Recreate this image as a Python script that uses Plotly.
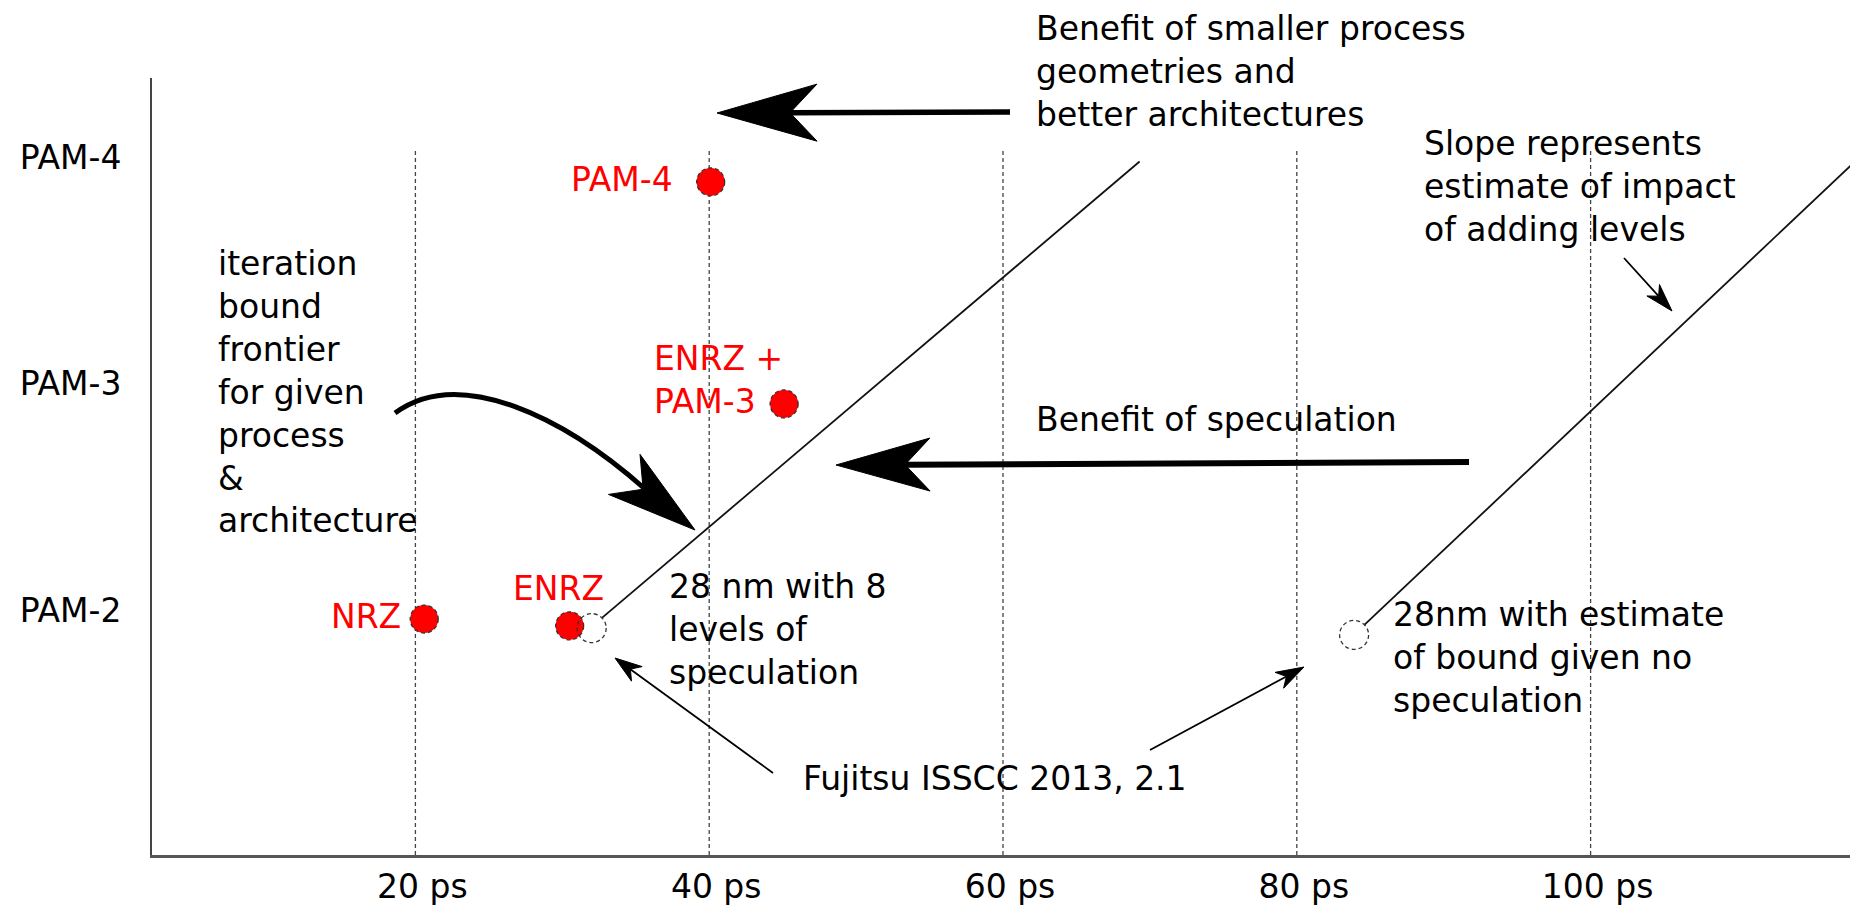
import math
import plotly.graph_objects as go

# ---------------- data ----------------
LEVEL_TICKS = [2, 3, 4]
LEVEL_LABELS = ["PAM-2", "PAM-3", "PAM-4"]
PS_TICKS = [20, 40, 60, 80, 100]
PS_LABELS = ["20 ps", "40 ps", "60 ps", "80 ps", "100 ps"]

SCHEMES = ["NRZ", "ENRZ", "PAM-4", "ENRZ + PAM-3"]
SCHEME_PS = [20.6, 30.5, 40.1, 45.1]
SCHEME_LEVEL = [1.96, 1.93, 3.89, 2.91]

BOUND_NAMES = ["28 nm with 8 levels of speculation", "28 nm, no speculation"]
BOUND_PS = [32.0, 83.9]
BOUND_LEVEL = [1.92, 1.89]

FRONTIER1_PS = [32.7, 69.3]
FRONTIER1_LEVEL = [1.965, 3.98]
FRONTIER2_PS = [84.6, 118.0]
FRONTIER2_LEVEL = [1.934, 3.98]

GRID_TOP_LEVEL = 4.04

# ---------------- geometry ----------------
# The page body has an 8px margin, so the figure is drawn 8px right/down
# of the screen origin; all screen positions below are converted.
BODY = 8
W, H = 1850, 899
PLOT_L, PLOT_R, PLOT_T, PLOT_B = 152, 1855, 78, 855          # screen px
L_M = PLOT_L - BODY
R_M = W - (PLOT_R - BODY)
T_M = PLOT_T - BODY
B_M = H - (PLOT_B - BODY)

X0PX, XSCALE = 121.6, 14.69      # screen px = X0PX + XSCALE * ps
Y2PX, YSCALE = 610.0, 226.5      # screen px = Y2PX - YSCALE * (level - 2)


def px2x(px):
    return (px - X0PX) / XSCALE


def py2y(py):
    return 2 + (Y2PX - py) / YSCALE


def px2paper(px):
    return (px - PLOT_L) / (PLOT_R - PLOT_L)


def py2paper(py):
    return (PLOT_B - py) / (PLOT_B - PLOT_T)


XRANGE = [px2x(PLOT_L), px2x(PLOT_R)]
YRANGE = [py2y(PLOT_B), py2y(PLOT_T)]

FONT = "DejaVu Sans"
FS = 33
RED = "#ff0000"

fig = go.Figure()

# frontier lines
for xs, ys in [(FRONTIER1_PS, FRONTIER1_LEVEL), (FRONTIER2_PS, FRONTIER2_LEVEL)]:
    fig.add_trace(go.Scatter(x=xs, y=ys, mode="lines",
                             line=dict(color="#111", width=1.8),
                             hoverinfo="skip"))

# red signalling-scheme points
fig.add_trace(go.Scatter(x=SCHEME_PS, y=SCHEME_LEVEL, mode="markers",
                         marker=dict(size=28, color=RED, line=dict(width=0)),
                         text=SCHEMES, hoverinfo="text", cliponaxis=False))

shapes = []
# dashed vertical grid lines
for t in PS_TICKS:
    shapes.append(dict(type="line", xref="x", yref="y", x0=t, x1=t,
                       y0=YRANGE[0], y1=GRID_TOP_LEVEL, layer="below",
                       line=dict(color="#444", width=1.3, dash="4px,3px")))

# dashed outlines around red points and the empty bound circles
for xs, ys, r in [(SCHEME_PS, SCHEME_LEVEL, 14), (BOUND_PS, BOUND_LEVEL, 14.5)]:
    for x, y in zip(xs, ys):
        shapes.append(dict(type="circle", xref="x", yref="y",
                           xsizemode="pixel", ysizemode="pixel",
                           xanchor=x, yanchor=y, x0=-r, x1=r, y0=-r, y1=r,
                           line=dict(color="#333", width=1.3, dash="4px,3px"),
                           layer="above"))


def head_path(tip, direction, hl, hw, notch):
    dx, dy = direction
    n = math.hypot(dx, dy)
    dx, dy = dx / n, dy / n
    nx, ny = -dy, dx
    tx, ty = tip
    bx, by = tx - hl * dx, ty - hl * dy
    w1 = (bx + hw * nx, by + hw * ny)
    w2 = (bx - hw * nx, by - hw * ny)
    nt = (tx - (hl - notch) * dx, ty - (hl - notch) * dy)
    pts = [tip, w1, nt, w2]
    d = "M " + " L ".join(f"{px2x(p[0]):.4f},{py2y(p[1]):.4f}" for p in pts) + " Z"
    return d, nt


# straight annotation arrows (screen positions of tail and tip)
ARROWS = [
    dict(tail=(1010, 112), tip=(717, 113), lw=5.5, hl=100, hw=28.5, notch=27),
    dict(tail=(1469, 462), tip=(836, 465), lw=6, hl=94, hw=26.5, notch=25),
    dict(tail=(773, 773), tip=(615, 658), lw=1.8, hl=27, hw=9, notch=8),
    dict(tail=(1150, 750), tip=(1304, 667), lw=1.8, hl=28, hw=9, notch=8),
    dict(tail=(1624, 258), tip=(1672, 311), lw=1.8, hl=28, hw=8.5, notch=8),
]
for a in ARROWS:
    direction = (a["tip"][0] - a["tail"][0], a["tip"][1] - a["tail"][1])
    d, nt = head_path(a["tip"], direction, a["hl"], a["hw"], a["notch"])
    shapes.append(dict(type="line", xref="x", yref="y",
                       x0=px2x(a["tail"][0]), y0=py2y(a["tail"][1]),
                       x1=px2x(nt[0]), y1=py2y(nt[1]),
                       line=dict(color="black", width=a["lw"])))
    shapes.append(dict(type="path", xref="x", yref="y", path=d,
                       fillcolor="black", line=dict(color="black", width=1)))

# curved arrow
CURVE = [(395, 413), (460, 365), (565, 418), (645, 489)]
cp = " ".join(f"{px2x(p[0]):.4f},{py2y(p[1]):.4f}" for p in CURVE[1:])
shapes.append(dict(type="path", xref="x", yref="y",
                   path=f"M {px2x(CURVE[0][0]):.4f},{py2y(CURVE[0][1]):.4f} C {cp}",
                   line=dict(color="black", width=5)))
d, _ = head_path((695, 530), (0.786, 0.618), 90, 25.5, 24)
shapes.append(dict(type="path", xref="x", yref="y", path=d,
                   fillcolor="black", line=dict(color="black", width=1)))

# text annotations: (text, anchor-x screen px, centre-y screen px, xanchor, colour)
TEXTS = [
    ("Benefit of smaller process<br>geometries and<br>better architectures", 1035, 71, "left", "black"),
    ("Slope represents<br>estimate of impact<br>of adding levels", 1423, 186, "left", "black"),
    ("iteration<br>bound<br>frontier<br>for given<br>process<br>&amp;<br>architecture", 217, 392, "left", "black"),
    ("Benefit of speculation", 1035, 419.6, "left", "black"),
    ("28 nm with 8<br>levels of<br>speculation", 668, 629.6, "left", "black"),
    ("28nm with estimate<br>of bound given no<br>speculation", 1392, 657.6, "left", "black"),
    ("Fujitsu ISSCC 2013, 2.1", 802, 778.6, "left", "black"),
    ("PAM-4", 674, 179.6, "right", RED),
    ("ENRZ +<br>PAM-3", 653, 380, "left", RED),
    ("NRZ", 402, 616.6, "right", RED),
    ("ENRZ", 512, 588.6, "left", RED),
]
annotations = []
for text, x, y, xa, col in TEXTS:
    annotations.append(dict(text=text, x=px2paper(x), y=py2paper(y),
                            xref="paper", yref="paper",
                            xanchor=xa, yanchor="middle", align="left",
                            showarrow=False, borderpad=0,
                            font=dict(family=FONT, size=FS, color=col)))

fig.update_layout(
    width=W, height=H, autosize=False,
    margin=dict(l=L_M, r=R_M, t=T_M, b=B_M, pad=0),
    paper_bgcolor="white", plot_bgcolor="white",
    showlegend=False,
    font=dict(family=FONT, size=FS, color="black"),
    shapes=shapes, annotations=annotations,
    xaxis=dict(range=XRANGE, showline=True, linewidth=3, linecolor="#555",
               tickmode="array", tickvals=PS_TICKS, ticktext=PS_LABELS,
               ticks="", showgrid=False, automargin=False,
               zeroline=False, ticklabelstandoff=0, ticklabelshift=7,
               tickfont=dict(family=FONT, size=FS, color="black")),
    yaxis=dict(range=YRANGE, showline=True, linewidth=2, linecolor="#444",
               tickmode="array", tickvals=LEVEL_TICKS, ticktext=LEVEL_LABELS,
               ticks="", automargin=False,
               showgrid=False, zeroline=False, ticklabelstandoff=22,
               tickfont=dict(family=FONT, size=FS, color="black")),
)

fig.write_html("out.html")
